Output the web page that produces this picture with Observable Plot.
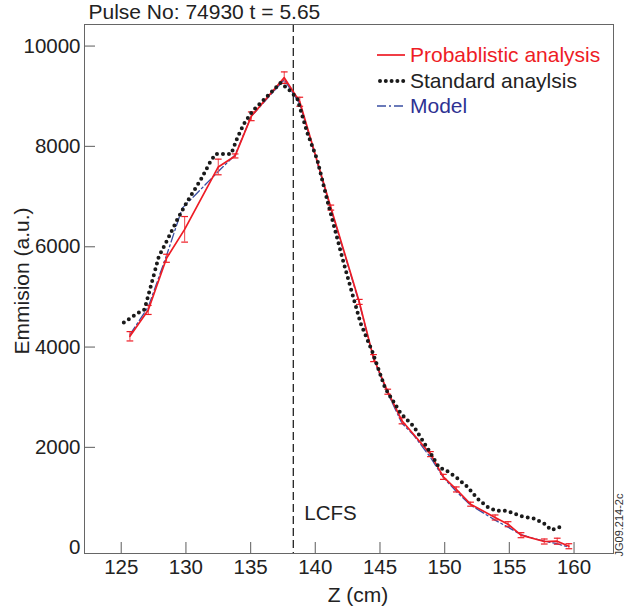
<!DOCTYPE html>
<html><head><meta charset="utf-8">
<script src="https://cdn.jsdelivr.net/npm/d3@7"></script>
<script src="https://cdn.jsdelivr.net/npm/@observablehq/plot@0.6"></script>
<style>body{margin:0;background:#fff;} #chart{width:624px;height:612px;}</style>
</head><body><div id="chart"></div>
<script>
// Probabilistic analysis (red, with error bars)
const redZ   = [125.67,127.09,128.5,129.9,132.5,133.8,135.05,137.6,138.8,141.2,143.4,144.5,145.6,146.7,148.9,149.9,150.9,152.0,153.9,154.9,155.9,157.7,158.7,159.6];
const redE   = [4215,4740,5770,6347,7590,7810,8600,9370,8890,6780,4900,3780,3110,2530,1866,1413,1162,868,603,469,250,124,130,30];
const redErr = [93,90,80,255,156,40,87,115,90,50,50,70,50,60,50,50,50,40,50,50,50,50,60,50];
// Standard analysis (black dotted)
const stdZ = [125.2,126.24,126.8,127.27,127.9,128.43,129.33,130.1,131.13,131.9,132.3,133.5,133.97,134.48,135.13,136.55,137.32,137.96,138.6,139.38,140.15,140.93,142.2,143.5,144.41,145.4,146.6,147.63,148.92,149.56,150.08,150.85,151.76,152.53,153.3,153.95,154.85,155.88,156.91,157.68,158.25,158.72,159.1];
const stdE = [4490,4670,4750,5200,5800,6070,6540,6900,7330,7700,7850,7850,8170,8450,8700,9070,9270,9130,8960,8270,7735,6920,5670,4475,3908,3180,2680,2411,1880,1600,1547,1413,1214,982,814,735,735,629,583,483,350,395,435];
// Model (blue dash-dot)
const modZ = [125.67,127.09,128.56,129.72,131.13,132.5,133.8,135.05,137.6,138.8,141.2,143.4,144.5,145.6,146.7,147.6,148.9,149.9,150.9,152.0,153.9,154.9,155.9,156.8,157.7,158.7,159.6];
const modE = [4250,4800,5870,6770,7140,7500,7830,8600,9330,8850,6760,4880,3760,3080,2480,2245,1800,1400,1120,850,550,410,260,190,130,80,10];
const lcfsZ = [138.3];
const xTicks = [125,130,135,140,145,150,155,160];
const yTicks = [0,2000,4000,6000,8000,10000];
const yTickMarks = [2000,4000,6000,8000,10000];
const legendLabels = ["Probablistic analysis","Standard anaylsis","Model"];
const titleText = "Pulse No: 74930 t = 5.65";

const RED = "#ee1c25", BLUE = "#3a4fa3", BLACK = "#1a1a1a";
const font = '"Liberation Sans", Arial, Helvetica, sans-serif';
const W = 624, H = 612, mL = 84, mR = 11, mT = 24, mB = 59;

const red = redZ.map((z,i)=>({z, e:redE[i], err:redErr[i]}));
const std = stdZ.map((z,i)=>({z, e:stdE[i]}));
const mod = modZ.map((z,i)=>({z, e:modE[i]}));

const plot = Plot.plot({
  width: W, height: H,
  marginLeft: mL, marginRight: mR, marginTop: mT, marginBottom: mB,
  style: {fontFamily: font, fontSize: "20px", background: "#fff", color: "#222"},
  x: {domain: [122.16, 163.05]},
  y: {domain: [-115, 10430]},
  marks: [
    Plot.axisX(xTicks, {tickSize: 0, tickPadding: 6, fontSize: 20.5, label: null, fill: "#222", tickFormat: d3.format("d")}),
    Plot.axisY(yTicks, {tickSize: 0, tickPadding: 4, fontSize: 20.5, label: null, fill: "#222", tickFormat: d3.format("d")}),
    Plot.tickX(xTicks, {x: d=>d, insetTop: (H-mT-mB)-11, stroke: "#777", strokeWidth: 1.2}),
    Plot.tickY(yTickMarks, {y: d=>d, insetRight: (W-mL-mR)-11, stroke: "#777", strokeWidth: 1.2}),
    Plot.ruleX(lcfsZ, {x: d=>d, stroke: "#222", strokeWidth: 1.3, strokeDasharray: "8,4"}),
    Plot.text(lcfsZ, {x: d=>d, frameAnchor: "bottom", text: ()=>"LCFS", textAnchor: "start", lineAnchor: "middle", dx: 11, dy: -40, fontSize: 20.5, fill: "#222"}),
    Plot.line(mod, {x: "z", y: "e", stroke: BLUE, strokeWidth: 1.3, strokeDasharray: "9,3,2,3"}),
    Plot.ruleX(red, {x: "z", y1: d=>d.e-d.err, y2: d=>d.e+d.err, stroke: "#f0525a", strokeWidth: 1.1}),
    Plot.link(red, {x1: d=>d.z-0.26, x2: d=>d.z+0.26, y1: d=>d.e+d.err, y2: d=>d.e+d.err, stroke: RED, strokeWidth: 1.2}),
    Plot.link(red, {x1: d=>d.z-0.26, x2: d=>d.z+0.26, y1: d=>d.e-d.err, y2: d=>d.e-d.err, stroke: RED, strokeWidth: 1.2}),
    Plot.line(red, {x: "z", y: "e", stroke: RED, strokeWidth: 1.7}),
    Plot.line(std, {x: "z", y: "e", stroke: BLACK, strokeWidth: 4, strokeDasharray: "0,6", strokeLinecap: "round"}),
    Plot.frame({stroke: "#666", strokeWidth: 1}),
    Plot.text([titleText], {text: d=>d, frameAnchor: "top-left", textAnchor: "start", lineAnchor: "middle", dx: 4, dy: -12, fontSize: 21, fill: "#222"}),
    Plot.text(["Emmision (a.u.)"], {text: d=>d, frameAnchor: "left", rotate: -90, textAnchor: "middle", lineAnchor: "middle", dx: -62, dy: -8, fontSize: 21, fill: "#222"}),
    Plot.text(["Z (cm)"], {text: d=>d, frameAnchor: "bottom", textAnchor: "middle", lineAnchor: "middle", dx: 9, dy: 42, fontSize: 21, fill: "#222"}),
    Plot.text(["JG09.214-2c"], {text: d=>d, frameAnchor: "bottom-right", rotate: -90, textAnchor: "start", lineAnchor: "middle", dx: 6, dy: 3, fontSize: 11, fill: "#333"})
  ]
});
document.getElementById("chart").appendChild(plot);

// Legend
const svg = d3.select(plot);
const lg = svg.append("g").attr("font-family", font).attr("font-size", 21).attr("text-anchor", "start");
const rows = [
  {label: legendLabels[0], color: RED, txt: RED, y: 55, dash: null, w: 1.7, cap: "butt"},
  {label: legendLabels[1], color: BLACK, txt: "#222", y: 81, dash: "0,5.8", w: 4, cap: "round"},
  {label: legendLabels[2], color: BLUE, txt: "#2e3192", y: 106, dash: "9,3,2,3", w: 1.3, cap: "butt"}
];
rows.forEach(r => {
  lg.append("line").attr("x1", r.cap === "round" ? 380 : 377).attr("x2", 405).attr("y1", r.y).attr("y2", r.y)
    .attr("stroke", r.color).attr("stroke-width", r.w).attr("stroke-linecap", r.cap)
    .attr("stroke-dasharray", r.dash);
  lg.append("text").attr("x", 410).attr("y", r.y).attr("dy", "0.35em").attr("text-anchor", "start").attr("fill", r.txt).text(r.label);
});
</script>
</body></html>
